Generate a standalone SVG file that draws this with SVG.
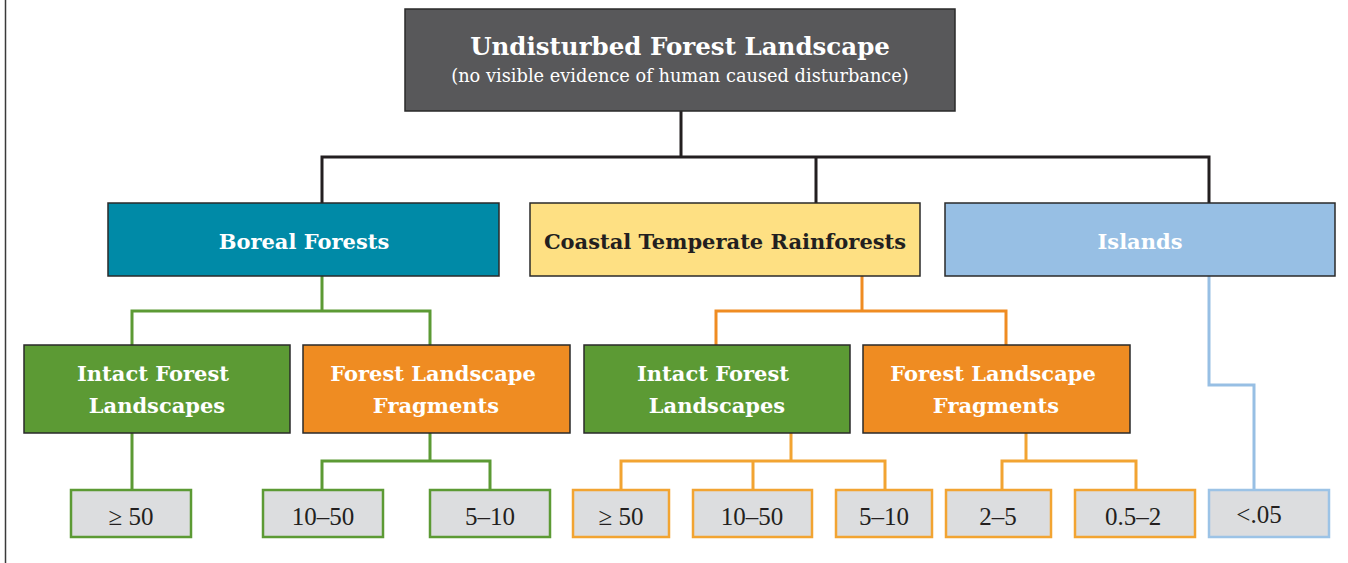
<svg xmlns="http://www.w3.org/2000/svg" width="1348" height="563" viewBox="0 0 1348 563">
<style>
.bx{stroke:#2a2a2a;stroke-width:1.5}
.leaf{fill:#dcdddf;stroke-width:2.5}
.h{font-family:"DejaVu Serif","Liberation Serif",serif;font-weight:bold;text-anchor:middle}
.n{font-family:"Liberation Serif",serif;font-size:25px;fill:#231f20;text-anchor:middle}
.c{fill:none;stroke-width:3}
</style>
<rect width="1348" height="563" fill="#ffffff"/>
<line x1="5.5" y1="0" x2="5.5" y2="563" stroke="#3a3a3a" stroke-width="1.5"/>
<g id="connectors">
<path class="c" stroke="#231f20" d="M681,111V157M322,203V157H1209V203M816,157V203"/>
<path class="c" stroke="#5c9a34" d="M322,276V311M132,345V311H430V345"/>
<path class="c" stroke="#ef8c22" d="M862,276V311M716,345V311H1006V345"/>
<path class="c" stroke="#97bfe4" d="M1209,276V385H1254V490"/>
<path class="c" stroke="#5c9a34" d="M132,433V490M430,433V461M322,490V461H490V490"/>
<path class="c" stroke="#f2a432" d="M791,433V461M621,490V461H885V490M753,461V490"/>
<path class="c" stroke="#f2a432" d="M1026,433V461M1002,490V461H1136V490"/>
</g>
<g id="root">
<rect class="bx" x="405" y="9" width="550" height="102" fill="#58585a"/>
<text class="h" x="680" y="55" font-size="24.5" fill="#ffffff">Undisturbed Forest Landscape</text>
<text x="680" y="82" font-family="DejaVu Serif, Liberation Serif, serif" font-size="17.8" fill="#ffffff" text-anchor="middle">(no visible evidence of human caused disturbance)</text>
</g>
<g id="boreal">
<rect class="bx" x="108" y="203" width="391" height="73" fill="#008aa7"/>
<text class="h" x="304" y="249" font-size="21" fill="#ffffff">Boreal Forests</text>
</g>
<g id="coastal">
<rect class="bx" x="530" y="203" width="390" height="73" fill="#fee083"/>
<text class="h" x="725" y="249" font-size="21" fill="#231f20">Coastal Temperate Rainforests</text>
</g>
<g id="islands">
<rect class="bx" x="945" y="203" width="390" height="73" fill="#97bfe4"/>
<text class="h" x="1140" y="249" font-size="21" fill="#ffffff">Islands</text>
</g>
<g id="ifl-boreal">
<rect class="bx" x="24" y="345" width="266" height="88" fill="#5c9a34"/>
<text class="h" x="153" y="381" font-size="21" fill="#ffffff">Intact Forest</text>
<text class="h" x="157" y="413" font-size="21" fill="#ffffff">Landscapes</text>
</g>
<g id="flf-boreal">
<rect class="bx" x="303" y="345" width="267" height="88" fill="#ef8c22"/>
<text class="h" x="433" y="381" font-size="21" fill="#ffffff">Forest Landscape</text>
<text class="h" x="436" y="413" font-size="21" fill="#ffffff">Fragments</text>
</g>
<g id="ifl-coastal">
<rect class="bx" x="584" y="345" width="266" height="88" fill="#5c9a34"/>
<text class="h" x="713" y="381" font-size="21" fill="#ffffff">Intact Forest</text>
<text class="h" x="717" y="413" font-size="21" fill="#ffffff">Landscapes</text>
</g>
<g id="flf-coastal">
<rect class="bx" x="863" y="345" width="267" height="88" fill="#ef8c22"/>
<text class="h" x="993" y="381" font-size="21" fill="#ffffff">Forest Landscape</text>
<text class="h" x="996" y="413" font-size="21" fill="#ffffff">Fragments</text>
</g>
<g id="b-50"><rect class="leaf" x="71" y="490" width="120" height="47" stroke="#5c9a34"/><text class="n" x="131" y="525">≥ 50</text></g>
<g id="b-10-50"><rect class="leaf" x="263" y="490" width="120" height="47" stroke="#5c9a34"/><text class="n" x="323" y="525">10–50</text></g>
<g id="b-5-10"><rect class="leaf" x="430" y="490" width="120" height="47" stroke="#5c9a34"/><text class="n" x="490" y="525">5–10</text></g>
<g id="c-50"><rect class="leaf" x="573" y="490" width="96" height="47" stroke="#f2a432"/><text class="n" x="621" y="525">≥ 50</text></g>
<g id="c-10-50"><rect class="leaf" x="693" y="490" width="119" height="47" stroke="#f2a432"/><text class="n" x="752" y="525">10–50</text></g>
<g id="c-5-10"><rect class="leaf" x="836" y="490" width="96" height="47" stroke="#f2a432"/><text class="n" x="884" y="525">5–10</text></g>
<g id="c-2-5"><rect class="leaf" x="946" y="490" width="105" height="47" stroke="#f2a432"/><text class="n" x="998" y="525">2–5</text></g>
<g id="c-05-2"><rect class="leaf" x="1075" y="490" width="120" height="47" stroke="#f2a432"/><text class="n" x="1133" y="525">0.5–2</text></g>
<g id="i-05"><rect class="leaf" x="1209" y="490" width="120" height="47" stroke="#9cc3e6"/><text class="n" x="1259" y="523">&lt;.05</text></g>
</svg>
